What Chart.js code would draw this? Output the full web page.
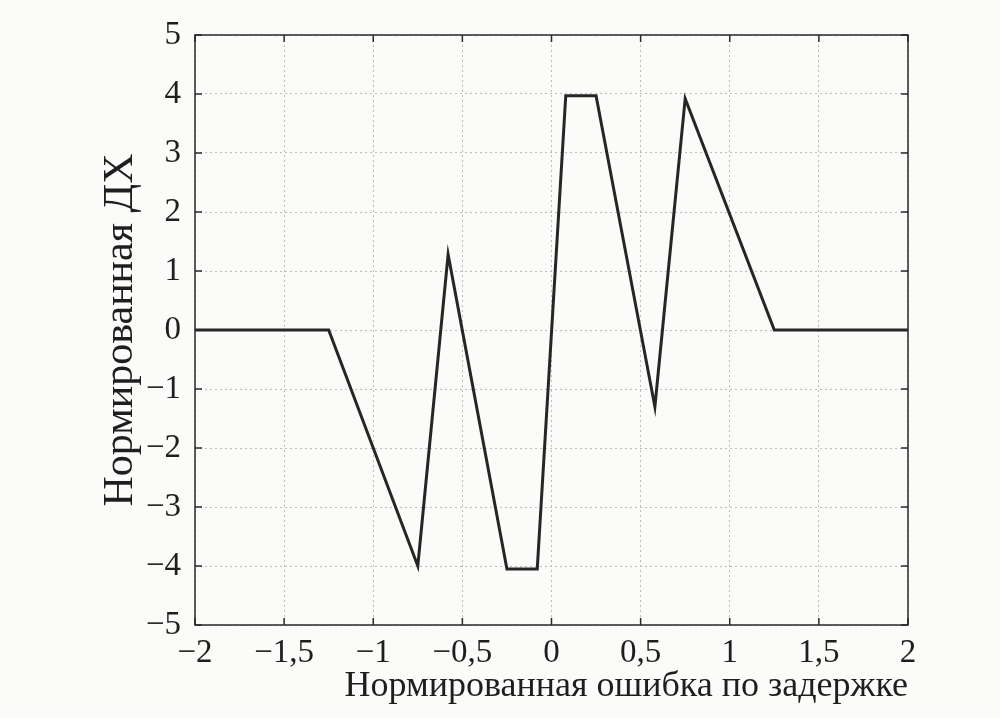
<!DOCTYPE html>
<html>
<head>
<meta charset="utf-8">
<script src="https://cdn.jsdelivr.net/npm/chart.js@4"></script>
<style>
  html, body { margin: 0; padding: 0; background: #fbfbfa; }
  #wrap { width: 1000px; height: 718px; }
</style>
</head>
<body>
<div id="wrap"><canvas id="chart" width="1000" height="718"></canvas></div>
<script>
// normalized discriminator curve (S-curve)
const errX = [-2, -1.25, -0.75, -0.58, -0.25, -0.08, 0.08, 0.25, 0.58, 0.75, 1.25, 2];
const dxY  = [0, 0, -4.0, 1.28, -4.05, -4.05, 3.97, 3.97, -1.3, 3.92, 0, 0];

const xTicks = [-2, -1.5, -1, -0.5, 0, 0.5, 1, 1.5, 2];
const xTickLabels = ["\u22122", "\u22121,5", "\u22121", "\u22120,5", "0", "0,5", "1", "1,5", "2"];
const yTicks = [-5, -4, -3, -2, -1, 0, 1, 2, 3, 4, 5];
const yTickLabels = ["\u22125", "\u22124", "\u22123", "\u22122", "\u22121", "0", "1", "2", "3", "4", "5"];

const xTitle = "Нормированная ошибка по задержке";
const yTitle = "Нормированная ДХ";

const FONT = "'Liberation Serif', 'Times New Roman', serif";
const INK = "#1e1e1e";

// MATLAB-like box with inward ticks
const boxFrame = {
  id: "boxFrame",
  afterDraw(chart) {
    const { ctx, chartArea: a, scales } = chart;
    ctx.save();
    ctx.strokeStyle = "#2a2a2a";
    ctx.lineWidth = 1.5;
    ctx.strokeRect(a.left, a.top, a.right - a.left, a.bottom - a.top);
    const t = 7;
    ctx.beginPath();
    xTicks.forEach(v => {
      const px = scales.x.getPixelForValue(v);
      ctx.moveTo(px, a.bottom); ctx.lineTo(px, a.bottom - t);
      ctx.moveTo(px, a.top); ctx.lineTo(px, a.top + t);
    });
    yTicks.forEach(v => {
      const py = scales.y.getPixelForValue(v);
      ctx.moveTo(a.left, py); ctx.lineTo(a.left + t, py);
      ctx.moveTo(a.right, py); ctx.lineTo(a.right - t, py);
    });
    ctx.stroke();
    ctx.restore();
  }
};

new Chart(document.getElementById("chart"), {
  type: "line",
  data: {
    datasets: [{
      data: errX.map((x, i) => ({ x: x, y: dxY[i] })),
      borderColor: "#262626",
      borderWidth: 3,
      pointRadius: 0,
      tension: 0,
      fill: false
    }]
  },
  options: {
    responsive: false,
    animation: false,
    layout: { padding: { left: 94, right: 92, top: 35, bottom: 10 } },
    plugins: { legend: { display: false }, tooltip: { enabled: false } },
    scales: {
      x: {
        type: "linear",
        min: -2, max: 2,
        afterBuildTicks: s => { s.ticks = xTicks.map(v => ({ value: v })); },
        afterFit: s => { s.height = 718 - 10 - 625; },
        ticks: {
          color: INK,
          font: { family: FONT, size: 33 },
          padding: 9,
          maxRotation: 0,
          autoSkip: false,
          callback: (v) => xTickLabels[xTicks.indexOf(v)]
        },
        grid: { color: "#bdbdbd", lineWidth: 1, drawTicks: false },
        border: { display: false, dash: [2, 3] },
        title: {
          display: true, text: xTitle, align: "end", color: INK,
          font: { family: FONT, size: 36 }, padding: { top: 0, bottom: 0 }
        }
      },
      y: {
        min: -5, max: 5,
        afterBuildTicks: s => { s.ticks = yTicks.map(v => ({ value: v })); },
        afterFit: s => { s.width = 195 - 94; },
        ticks: {
          color: INK,
          font: { family: FONT, size: 33 },
          padding: 14,
          autoSkip: false,
          callback: (v) => yTickLabels[yTicks.indexOf(v)]
        },
        grid: { color: "#bdbdbd", lineWidth: 1, drawTicks: false },
        border: { display: false, dash: [2, 3] },
        title: {
          display: true, text: yTitle, color: INK,
          font: { family: FONT, size: 42 }, padding: { top: 2, bottom: 0 }
        }
      }
    }
  },
  plugins: [boxFrame]
});
</script>
</body>
</html>
